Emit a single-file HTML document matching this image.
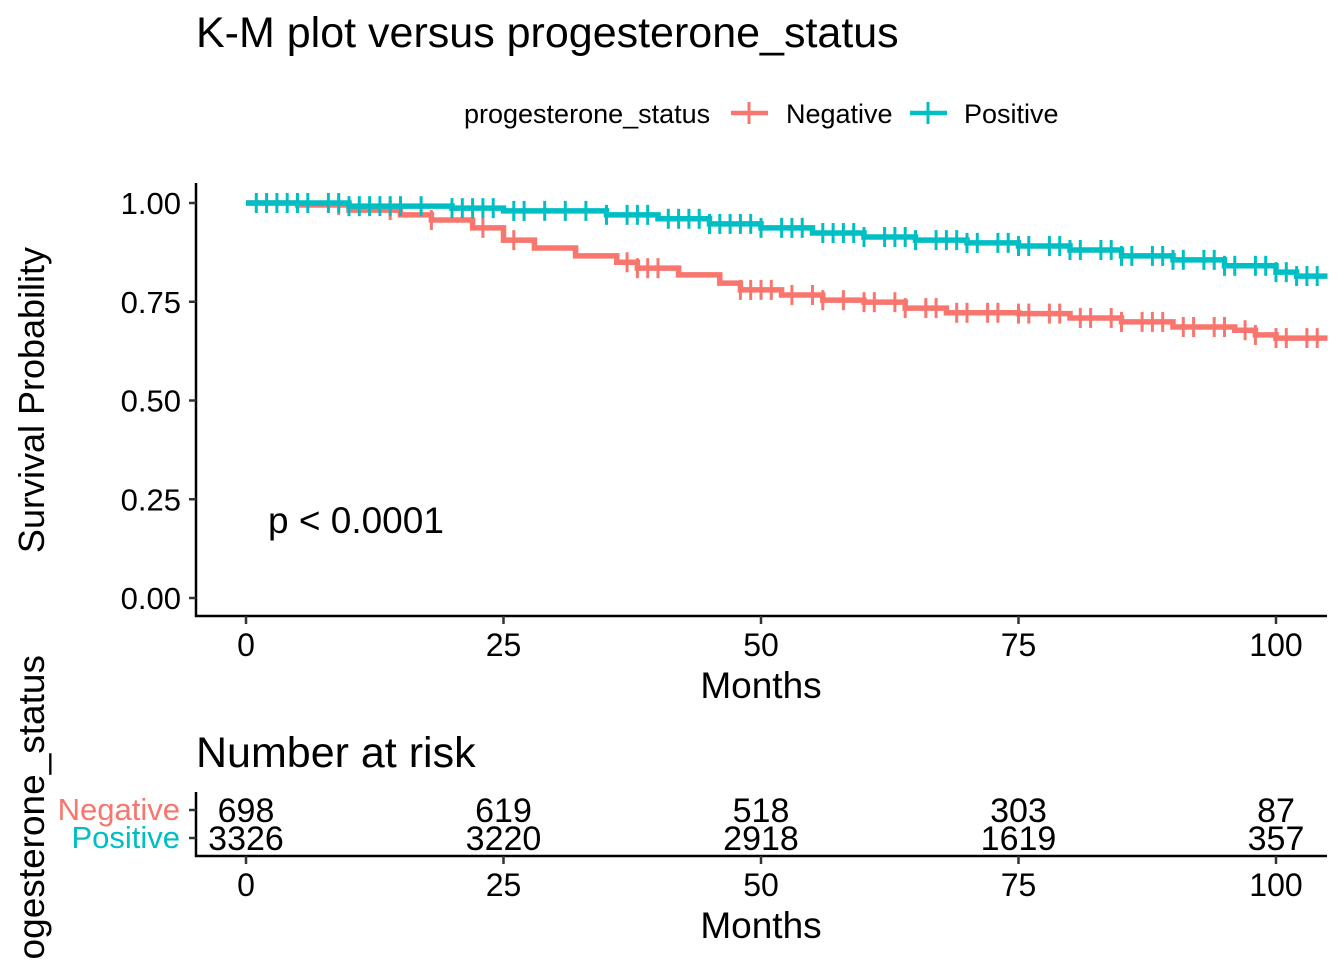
<!DOCTYPE html>
<html><head><meta charset="utf-8"><style>
html,body{margin:0;padding:0;background:#fff}
svg{display:block;font-family:"Liberation Sans",Arial,sans-serif}
</style></head><body>
<svg id="chart" width="1344" height="960" viewBox="0 0 1344 960">
<text x="196" y="47" font-size="43">K-M plot versus progesterone_status</text>
<g>
<text x="464" y="123" font-size="27">progesterone_status</text>
<g>
<line x1="731" y1="113" x2="768" y2="113" stroke="#F8766D" stroke-width="4.5"/>
<line x1="749" y1="102" x2="749" y2="124" stroke="#F8766D" stroke-width="3"/>
<text x="786" y="123" font-size="27">Negative</text></g>
<g>
<line x1="910" y1="113" x2="947" y2="113" stroke="#00BFC4" stroke-width="4.5"/>
<line x1="928" y1="102" x2="928" y2="124" stroke="#00BFC4" stroke-width="3"/>
<text x="964" y="123" font-size="27">Positive</text></g>
</g>
<g id="plot"></g>
<text transform="translate(44,400) rotate(-90)" text-anchor="middle" font-size="36">Survival Probability</text>
<text x="761" y="698" text-anchor="middle" font-size="37">Months</text>
<text x="268" y="533" font-size="37">p &lt; 0.0001</text>
<text x="196" y="767" font-size="43">Number at risk</text>
<text transform="translate(44,655) rotate(-90)" text-anchor="end" font-size="37">progesterone_status</text>
<g id="risk"></g>
<text x="761" y="938" text-anchor="middle" font-size="37">Months</text>
</svg>
<script>
const xTicks=[0,25,50,75,100];
const yTicks=[0,0.25,0.5,0.75,1.0];
const yTickLabels=["0.00","0.25","0.50","0.75","1.00"];
const negTimes=[0,5,10,15,18,22,25,28,32,36,38,42,46,48,52,56,60,64,68,75,80,85,90,96,98,100,105];
const negSurv=[1.0,0.995,0.982,0.97,0.957,0.937,0.906,0.886,0.866,0.85,0.835,0.818,0.797,0.78,0.767,0.754,0.749,0.734,0.722,0.72,0.709,0.699,0.686,0.678,0.666,0.658,0.658];
const posTimes=[0,10,20,25,35,40,45,50,55,60,65,70,75,80,85,90,95,100,102,105];
const posSurv=[1.0,0.992,0.987,0.98,0.97,0.96,0.947,0.937,0.924,0.914,0.906,0.899,0.891,0.881,0.866,0.856,0.841,0.825,0.815,0.815];
const negCensor=[9,14,18,23,26,37,38,39,40,48,49,50,51,53,55,56,58,60,61,63,64,66,67,69,70,72,73,75,76,78,79,81,82,84,85,87,88,89,91,92,94,95,97,98,100,101,103,104];
const posCensor=[1,2,3,4,5,6,8,9,10,11,12,13,14,15,17,20,21,22,23,24,26,27,29,31,33,35,37,38,39,41,42,43,44,45,46,47,48,49,50,52,53,54,56,57,58,59,60,62,63,64,65,67,68,69,70,71,73,74,75,76,78,79,80,81,83,84,85,86,88,89,90,91,93,94,95,96,98,99,100,101,102,103,104];
const riskGroups=["Negative","Positive"];
const riskNeg=[698,619,518,303,87];
const riskPos=[3326,3220,2918,1619,357];
const NS="http://www.w3.org/2000/svg";
const X=t=>246+t*10.3;
const Y=s=>598-s*395;
function mk(tag,attrs,parent){const e=document.createElementNS(NS,tag);for(const k in attrs)e.setAttribute(k,attrs[k]);parent.appendChild(e);return e;}
const plot=document.getElementById('plot');
const ax=mk('g',{},plot);


mk('line',{x1:196,y1:183,x2:196,y2:617,stroke:'#000','stroke-width':2.5},ax);
mk('line',{x1:195,y1:616,x2:1327,y2:616,stroke:'#000','stroke-width':2.5},ax);
yTicks.forEach((v,i)=>{
 mk('line',{x1:189,y1:Y(v),x2:196,y2:Y(v),stroke:'#333','stroke-width':2.5},ax);
 const t=mk('text',{x:181,y:Y(v)+11,'text-anchor':'end','font-size':31},ax);
 
 
 t.textContent=yTickLabels[i];
});
xTicks.forEach(v=>{
 mk('line',{x1:X(v),y1:616,x2:X(v),y2:624,stroke:'#333','stroke-width':2.5},ax);
 const t=mk('text',{x:X(v),y:656,'text-anchor':'middle','font-size':32},ax);
 
 
 t.textContent=v;
});
function stepVal(times,surv,t){let s=surv[0];for(let i=0;i<times.length;i++){if(times[i]<=t)s=surv[i];}return s;}
function drawSeries(times,surv,cens,color,name){
 const g=mk('g',{},plot);
 
 
 let d='M'+X(times[0])+','+Y(surv[0]);
 for(let i=1;i<times.length;i++){d+=' H'+X(times[i])+' V'+Y(surv[i]);}
 const p=mk('path',{d:d,fill:'none',stroke:color,'stroke-width':5.5},g);
 
 
 cens.forEach(c=>{
  const y=Y(stepVal(times,surv,c));
  const m=mk('line',{x1:X(c),y1:y-10,x2:X(c),y2:y+10,stroke:color,'stroke-width':3},g);
  
  
 });
}
drawSeries(negTimes,negSurv,negCensor,'#F8766D','series-negative');
drawSeries(posTimes,posSurv,posCensor,'#00BFC4','series-positive');
const risk=document.getElementById('risk');
mk('line',{x1:196,y1:792,x2:196,y2:857,stroke:'#000','stroke-width':2.5},risk);
mk('line',{x1:195,y1:856,x2:1327,y2:856,stroke:'#000','stroke-width':2.5},risk);
const rowY=[810,838],cols=['#F8766D','#00BFC4'],vals=[riskNeg,riskPos];
riskGroups.forEach((gName,r)=>{
 mk('line',{x1:189,y1:rowY[r],x2:196,y2:rowY[r],stroke:'#333','stroke-width':2.5},risk);
 const l=mk('text',{x:180,y:rowY[r]+10,'text-anchor':'end','font-size':31,fill:cols[r]},risk);
 
 
 l.textContent=gName;
 vals[r].forEach((v,i)=>{
  const t=mk('text',{x:X(xTicks[i]),y:rowY[r]+12,'text-anchor':'middle','font-size':34},risk);
  
  
  t.textContent=v;
 });
});
xTicks.forEach(v=>{
 mk('line',{x1:X(v),y1:856,x2:X(v),y2:864,stroke:'#333','stroke-width':2.5},risk);
 const t=mk('text',{x:X(v),y:896,'text-anchor':'middle','font-size':32},risk);
 
 
 t.textContent=v;
});
</script>
</body></html>
